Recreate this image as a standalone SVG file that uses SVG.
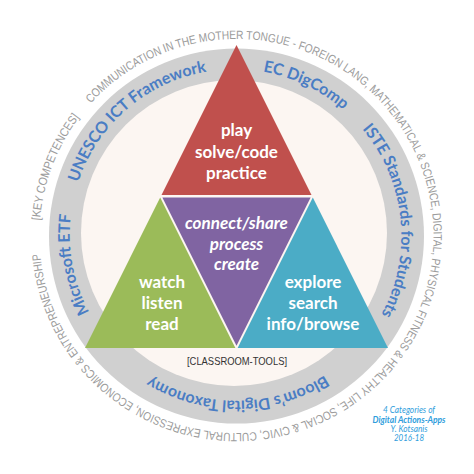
<svg xmlns="http://www.w3.org/2000/svg" xmlns:xlink="http://www.w3.org/1999/xlink" width="474" height="474" viewBox="0 0 474 474">
<defs>
<style>
.tri{font-family:Lato,"Open Sans","Liberation Sans",sans-serif;font-weight:bold;font-size:17px;fill:#fff;text-anchor:middle}
.it{font-style:italic}
.ring{font-family:Lato,"Open Sans","Liberation Sans",sans-serif;font-weight:bold;font-size:16px;fill:#4A7DC4;text-anchor:middle}
.outer{font-family:"Liberation Sans",Arial,sans-serif;font-size:12px;fill:#9C9C9C}
.credit{font-family:Lato,"Open Sans",sans-serif;font-style:italic;font-size:10px;fill:#2E9DDC;text-anchor:middle}
</style>
<path id="ringPath" d="M118.83,351.67 A165,165 0 1 1 352.17,118.33 A165,165 0 1 1 118.83,351.67"/>
<path id="outerPath" d="M39.5,236 A197,197 0 1 1 433.5,236 A197,197 0 1 1 39.5,236"/>
</defs>
<rect width="474" height="474" fill="#fff"/>
<g id="ring">
<circle cx="236.5" cy="236" r="187.5" fill="#D0D0D0"/>
<circle cx="234" cy="233" r="153" fill="#FCF6F2"/>
</g>
<g id="outer-text">
<text class="outer"><textPath xlink:href="#outerPath" href="#outerPath" startOffset="15.5" textLength="112" lengthAdjust="spacingAndGlyphs">[KEY COMPETENCES]</textPath></text>
<text class="outer"><textPath xlink:href="#outerPath" href="#outerPath" startOffset="145.4" textLength="1074" lengthAdjust="spacingAndGlyphs">COMMUNICATION IN THE MOTHER TONGUE - FOREIGN LANG, MATHEMATICAL &amp; SCIENCE, DIGITAL, PHYSICAL FITNESS &amp; HEALTHY LIFE, SOCIAL &amp; CIVIC, CULTURAL EXPRESSION, ECONOMICS &amp; ENTREPRENEURSHIP</textPath></text>
</g>
<g id="frameworks">
<text class="ring"><textPath xlink:href="#ringPath" href="#ringPath" startOffset="99.9">Microsoft ETF</textPath></text>
<text class="ring"><textPath xlink:href="#ringPath" href="#ringPath" startOffset="272.4">UNESCO ICT Framework</textPath></text>
<text class="ring"><textPath xlink:href="#ringPath" href="#ringPath" startOffset="463.1">EC DigComp</textPath></text>
<text class="ring"><textPath xlink:href="#ringPath" href="#ringPath" startOffset="634.1">ISTE Standards for Students</textPath></text>
<text class="ring"><textPath xlink:href="#ringPath" href="#ringPath" startOffset="908.6">Bloom’s Digital Taxonomy</textPath></text>
</g>
<g id="node-play">
<polygon points="236.5,45 161.5,195 311.5,195" fill="#C0504D"/>
<text class="tri" x="236.5" y="136">play</text>
<text class="tri" x="236.5" y="158">solve/code</text>
<text class="tri" x="236.5" y="179">practice</text>
</g>
<g id="node-connect">
<polygon points="162.4,197.5 310.6,197.5 236.5,345.8" fill="#8064A2"/>
<text class="tri it" x="236.5" y="229">connect/share</text>
<text class="tri it" x="236.5" y="250">process</text>
<text class="tri it" x="236.5" y="270">create</text>
</g>
<g id="node-watch">
<polygon points="160.2,197.6 85,348 235.4,348" fill="#9BBB59"/>
<text class="tri" x="162" y="288">watch</text>
<text class="tri" x="162" y="309">listen</text>
<text class="tri" x="162" y="330">read</text>
</g>
<g id="node-explore">
<polygon points="312.8,197.6 388,348 237.6,348" fill="#4BACC6"/>
<text class="tri" x="313" y="288">explore</text>
<text class="tri" x="313" y="309">search</text>
<text class="tri" x="313" y="330">info/browse</text>
</g>
<g id="classroom-tools">
<text x="237" y="365" font-family="Liberation Sans,Arial,sans-serif" font-size="11" fill="#333" text-anchor="middle" textLength="100" lengthAdjust="spacingAndGlyphs">[CLASSROOM-TOOLS]</text>
</g>
<g id="credit">
<text class="credit" x="409" y="413" textLength="52" lengthAdjust="spacingAndGlyphs">4 Categories of</text>
<text class="credit" x="409" y="423" textLength="73" lengthAdjust="spacingAndGlyphs" font-weight="bold" fill="#1C82D4">Digital Actions-Apps</text>
<text class="credit" x="409" y="432" textLength="37" lengthAdjust="spacingAndGlyphs">Y. Kotsanis</text>
<text class="credit" x="409" y="441" textLength="30" lengthAdjust="spacingAndGlyphs">2016-18</text>
</g>
<g id="connectors"></g>
</svg>
